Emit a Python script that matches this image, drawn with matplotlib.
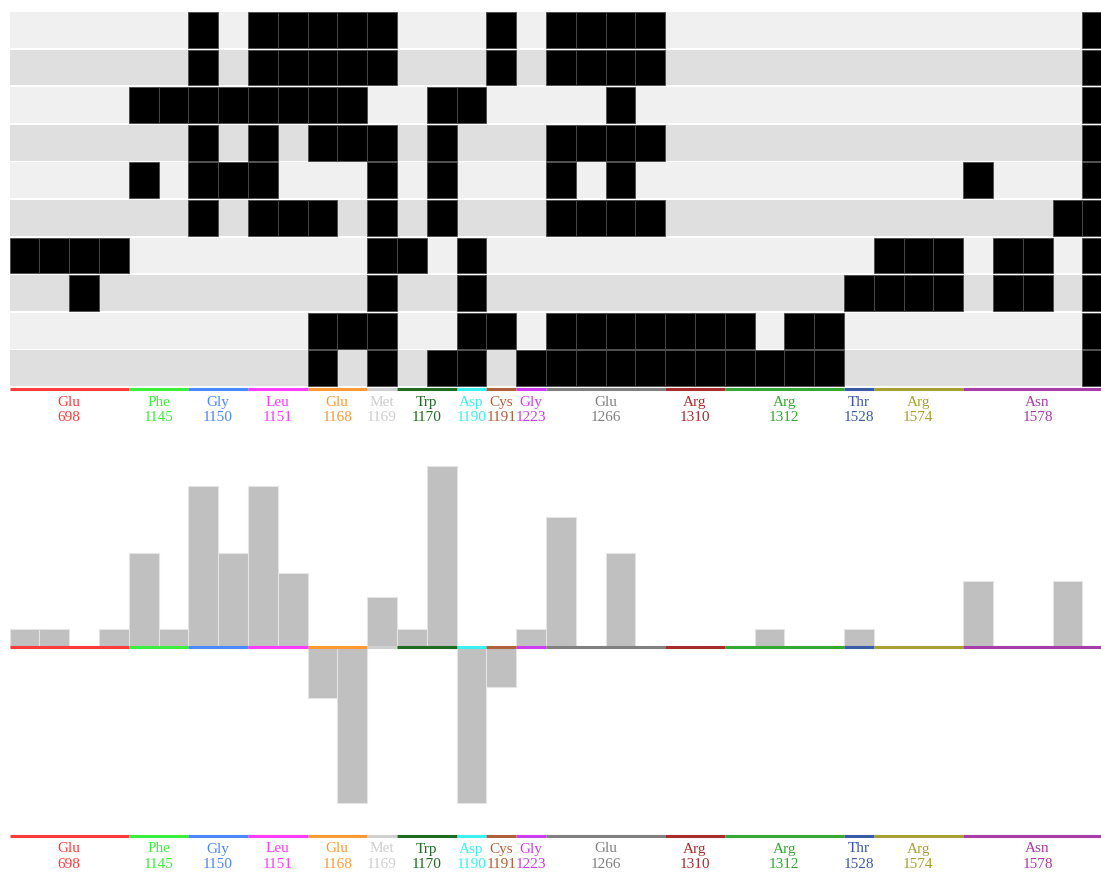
import numpy as np
import matplotlib.pyplot as plt

W, H = 1101, 875

# residue groups along the x axis (one column per contact position)
residues = ["Glu", "Phe", "Gly", "Leu", "Glu", "Met", "Trp", "Asp", "Cys", "Gly",
            "Glu", "Arg", "Arg", "Thr", "Arg", "Asn"]
res_numbers = ["698", "1145", "1150", "1151", "1168", "1169", "1170", "1190", "1191",
               "1223", "1266", "1310", "1312", "1528", "1574", "1578"]
res_spans = [4, 2, 2, 2, 2, 1, 2, 1, 1, 1, 4, 2, 4, 1, 3, 5]
res_colors = ["#ff3b3b", "#3cee3c", "#4a88ff", "#ff3cff", "#ff9a33", "#cfcfcf",
              "#1f6b1f", "#3cf0f0", "#b0603a", "#cc3cf0", "#808080", "#a82c2c",
              "#33a833", "#3a5aa8", "#a8a032", "#a83ca8"]

# contact map: black cells per row (column indices)
contact_rows = [
    [6, 8, 9, 10, 11, 12, 16, 18, 19, 20, 21, 36],
    [6, 8, 9, 10, 11, 12, 16, 18, 19, 20, 21, 36],
    [4, 5, 6, 7, 8, 9, 10, 11, 14, 15, 20, 36],
    [6, 8, 10, 11, 12, 14, 18, 19, 20, 21, 36],
    [4, 6, 7, 8, 12, 14, 18, 20, 32, 36],
    [6, 8, 9, 10, 12, 14, 18, 19, 20, 21, 35, 36],
    [0, 1, 2, 3, 12, 13, 15, 29, 30, 31, 33, 34, 36],
    [2, 12, 15, 28, 29, 30, 31, 33, 34, 36],
    [10, 11, 12, 15, 16, 18, 19, 20, 21, 22, 23, 24, 26, 27, 36],
    [10, 12, 14, 15, 17, 18, 19, 20, 21, 22, 23, 24, 25, 26, 27, 36],
]

# per-column difference values for the bar track
diff_values = [1.0, 1.0, 0, 1.0, 5.2, 1.0, 8.9, 5.2, 8.9, 4.1,
               -2.8, -8.6, 2.75, 1.0, 10.0, -8.6, -2.2, 1.0, 7.2, 0,
               5.2, 0, 0, 0, 0, 1.0, 0, 0, 1.0, 0,
               0, 0, 3.65, 0, 0, 3.65, 0]

n_cols = sum(res_spans)
n_rows = len(contact_rows)
col_w = 29.8
row_h = 37.6
x0 = 9.5
bar_scale = 18.1  # pixels per value unit
bar_base = 647

plt.rcParams["font.family"] = ["Liberation Serif", "DejaVu Serif"]


def px_axes(fig, left, top, width, height):
    ax = fig.add_axes([left / W, 1 - (top + height) / H, width / W, height / H])
    ax.set_axis_off()
    return ax


def group_edges():
    edges = np.concatenate([[0], np.cumsum(res_spans)])
    return edges[:-1], edges[1:]


def draw_track(fig, line_y):
    ax = px_axes(fig, x0, line_y - 4, n_cols * col_w, 40)
    ax.set_xlim(0, n_cols)
    ax.set_ylim(40, 0)
    starts, ends = group_edges()
    for s, e, name, num, c in zip(starts, ends, residues, res_numbers, res_colors):
        ax.plot([s, e], [4, 4], color=c, lw=2.2, solid_capstyle="butt")
        mid = (s + e) / 2
        ax.text(mid, 17, name, color=c, fontsize=11, ha="center", va="center")
        ax.text(mid, 32, num, color=c, fontsize=11, ha="center", va="center")


fig = plt.figure(figsize=(W / 100, H / 100), dpi=100)

# contact grid
ax_grid = px_axes(fig, x0, 12, n_cols * col_w, n_rows * row_h)
ax_grid.set_xlim(0, n_cols)
ax_grid.set_ylim(n_rows, 0)
band = 35.8 / row_h
for r, cols in enumerate(contact_rows):
    bg = "#f0f0f0" if r % 2 == 0 else "#dfdfdf"
    ax_grid.barh(r, n_cols, left=0, height=band, align="edge", color=bg, lw=0)
    ax_grid.bar(cols, band, bottom=r, width=1, align="edge", color="black",
                edgecolor="#4a4a4a", linewidth=0.6)

draw_track(fig, 389)

# difference bars
ylo, yhi = -10, 11
ax_bar = px_axes(fig, x0, bar_base - yhi * bar_scale, n_cols * col_w,
                 (yhi - ylo) * bar_scale)
ax_bar.set_xlim(0, n_cols)
ax_bar.set_ylim(ylo, yhi)
ax_bar.bar(np.arange(n_cols), diff_values, width=1, align="edge",
           color="#c0c0c0", edgecolor="#e4e4e4", linewidth=0.8)
starts, ends = group_edges()
for s, e, c in zip(starts, ends, res_colors):
    ax_bar.plot([s, e], [0, 0], color=c, lw=2.2, solid_capstyle="butt")

draw_track(fig, 836)

fig.savefig("out.png", dpi=100, facecolor="white")
